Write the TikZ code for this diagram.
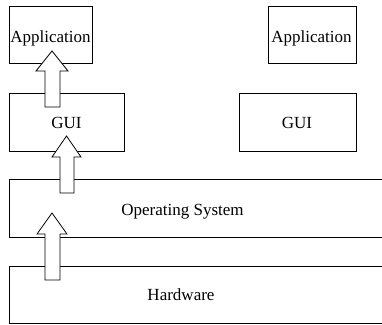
\documentclass[tikz,border=0pt]{standalone}
\usepackage{fontspec}
\setmainfont{Liberation Serif}
\begin{document}
\begin{tikzpicture}[x=1pt,y=-1pt,
  box/.style={draw, line width=0.8pt, fill=white},
  lbl/.style={font=\fontsize{17}{20}\selectfont, anchor=base, inner sep=0pt},
  blockarrow/.style={draw, line width=0.8pt, fill=white, line join=miter}]
\useasboundingbox (0,0) rectangle (382,324);
% boxes
\draw[box] (9,6) rectangle (92,63);
\coordinate (app1) at (50.5,42);
\draw[box] (268,6) rectangle (356,63);
\coordinate (app2) at (311.5,42);
\draw[box] (9,93) rectangle (124,151);
\coordinate (gui1) at (66.5,128);
\draw[box] (239,93) rectangle (356,151);
\coordinate (gui2) at (297,128);
\draw[line width=0.8pt] (383,179) -- (9,179) -- (9,237) -- (383,237);
\coordinate (os) at (182.5,215);
\draw[line width=0.8pt] (383,266) -- (9,266) -- (9,323) -- (383,323);
\coordinate (hw) at (181,300.5);
% labels
\node[lbl] (tapp1) at (app1) {Application};
\node[lbl] (tapp2) at (app2) {Application};
\node[lbl] (tgui1) at (gui1) {GUI};
\node[lbl] (tgui2) at (gui2) {GUI};
\node[lbl] (tos) at (os) {Operating System};
\node[lbl] (thw) at (hw) {Hardware};
% block arrows
\draw[blockarrow] (52,51) -- (68,71) -- (60,71) -- (60,107) -- (45,107) -- (45,71) -- (36,71) -- cycle;
\draw[blockarrow] (66.5,136) -- (81,157) -- (74,157) -- (74,193) -- (60,193) -- (60,157) -- (52,157) -- cycle;
\draw[blockarrow] (52,213) -- (67,234) -- (60,234) -- (60,280) -- (45,280) -- (45,234) -- (37,234) -- cycle;
\end{tikzpicture}
\end{document}
